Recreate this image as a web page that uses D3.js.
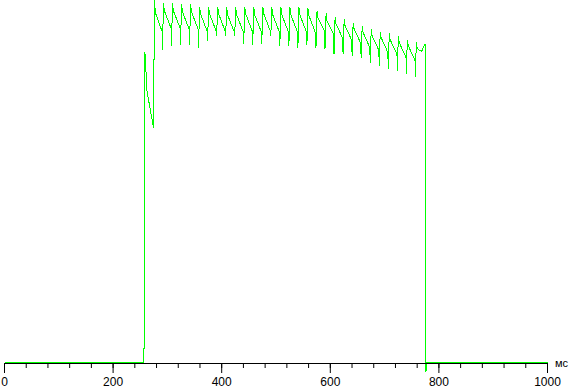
<!DOCTYPE html>
<html>
<head>
<meta charset="utf-8">
<script src="https://cdn.jsdelivr.net/npm/d3@7"></script>
<style>
  body { margin: 0; background: #fff; }
  svg { display: block; }
</style>
</head>
<body>
<div id="chart"></div>
<script>
var width = 569, height = 390;

// time in ms, level in % of full scale (screen top = 100)
// switch-on part before the flicker starts
var startMs  = [0, 255.9, 256.0, 257.8, 258.4, 260.0, 261.5, 274.4];
var startLvl = [0, 0,     3.9,   3.9,   85.9,  83.4,  75.7,  64.9];

// flicker teeth (about 16.6 ms period)
var peakMs = [276.2, 292.8, 309.4, 326.1, 342.7, 359.3, 376.0, 392.6, 409.2, 425.9,
              442.5, 459.1, 475.8, 492.4, 509.0, 525.7, 542.3, 558.9, 575.6, 592.2,
              608.8, 625.5, 642.1, 658.7, 675.4, 692.0, 708.6, 725.3, 741.9, 758.5];
var peakLvl = [100, 99.2, 99.2, 98.9, 98.9, 98.3, 98.3, 98.3, 98.1, 98.1,
               98.3, 98.1, 98.3, 98.1, 98.1, 98.1, 98.1, 97.8, 97.2, 96.4,
               95.3, 94.8, 93.9, 92.8, 92.0, 91.4, 90.9, 90.1, 89.2, 88.4];
var afterLvl = [96.7, 97.2, 97.2, 96.9, 96.9, 96.4, 96.4, 96.4, 96.1, 96.1,
                96.4, 96.1, 96.4, 96.1, 96.1, 96.1, 96.1, 95.9, 95.3, 94.5,
                93.6, 93.1, 92.3, 91.2, 90.3, 89.8, 89.2, 88.4, 87.6, 86.7];
// level at the end of each tooth's decay (teeth 0..28)
var endLvl = [91.4, 92.3, 92.3, 92.0, 92.0, 91.4, 91.4, 91.4, 91.2, 91.2,
              91.4, 91.2, 91.4, 91.2, 91.2, 91.2, 91.2, 90.9, 91.4, 90.6,
              89.5, 89.0, 88.1, 87.0, 86.2, 85.6, 85.1, 84.3, 83.4];
// short dip right before peaks 1..29
var dipLvl = [86.2, 87.3, 87.6, 87.6, 87.0, 88.9, 90.1, 90.1, 90.1, 88.1,
              87.6, 88.1, 90.1, 87.3, 87.3, 87.0, 87.6, 87.0, 86.7, 85.1,
              85.1, 84.8, 84.0, 82.6, 82.0, 81.2, 80.4, 79.8, 79.0];

// switch-off part
var tailMs  = [768.0, 773.5, 776.0, 776.2, 777.5, 1000];
var tailLvl = [85.9,  87.8,  87.8,  -2.5,  0,     0];

var minorTicks = d3.range(0, 1001, 40);
var majorTicks = [0, 200, 400, 600, 800, 1000];
var unitLabel = "мс";

var svg = d3.select("#chart").append("svg")
  .attr("width", width)
  .attr("height", height);

var xScale = d3.scaleLinear().domain([0, 1000]).range([4, 547]);
var yScale = d3.scaleLinear().domain([0, 100]).range([362, 0]);

// build the trace
var pts = [];
for (var i = 0; i < startMs.length; i++) pts.push([startMs[i], startLvl[i]]);
for (var k = 0; k < peakMs.length; k++) {
  if (k > 0) {
    pts.push([peakMs[k] - 2.5, endLvl[k - 1]]);
    pts.push([peakMs[k] - 2.0, dipLvl[k - 1]]);
  }
  pts.push([peakMs[k], peakLvl[k]]);
  pts.push([peakMs[k] + 1.5, afterLvl[k]]);
}
for (var j = 0; j < tailMs.length; j++) pts.push([tailMs[j], tailLvl[j]]);

var line = d3.line()
  .x(function(d) { return xScale(d[0]); })
  .y(function(d) { return yScale(d[1]); });

svg.append("path")
  .datum(pts)
  .attr("transform", "translate(0.5,0.5)")
  .attr("d", line)
  .attr("fill", "none")
  .attr("stroke", "#00ff00")
  .attr("stroke-width", 1)
  .attr("shape-rendering", "crispEdges");

// axis (drawn after the trace so the black line stays visible)
var axisG = svg.append("g").attr("transform", "translate(0,363)");

axisG.append("g")
  .call(d3.axisBottom(xScale).tickValues(minorTicks).tickSize(5).tickSizeOuter(0).tickFormat(""))
  .call(function(g) {
    g.selectAll("line").attr("stroke", "#000");
    g.select(".domain").attr("stroke", "#000").attr("shape-rendering", "crispEdges");
  });

axisG.append("g")
  .call(d3.axisBottom(xScale).tickValues(majorTicks).tickSize(10).tickSizeOuter(0).tickPadding(4)
    .tickFormat(d3.format("d")))
  .call(function(g) {
    g.select(".domain").remove();
    g.selectAll("line").attr("stroke", "#000");
    g.selectAll("text")
      .attr("fill", "#000")
      .style("font-family", "'Liberation Sans', Arial, sans-serif")
      .style("font-size", "12px");
  });

svg.append("text")
  .attr("x", 555)
  .attr("y", 367)
  .text(unitLabel)
  .style("font-family", "'Liberation Sans', Arial, sans-serif")
  .style("font-size", "11px")
  .attr("fill", "#000");
</script>
</body>
</html>
